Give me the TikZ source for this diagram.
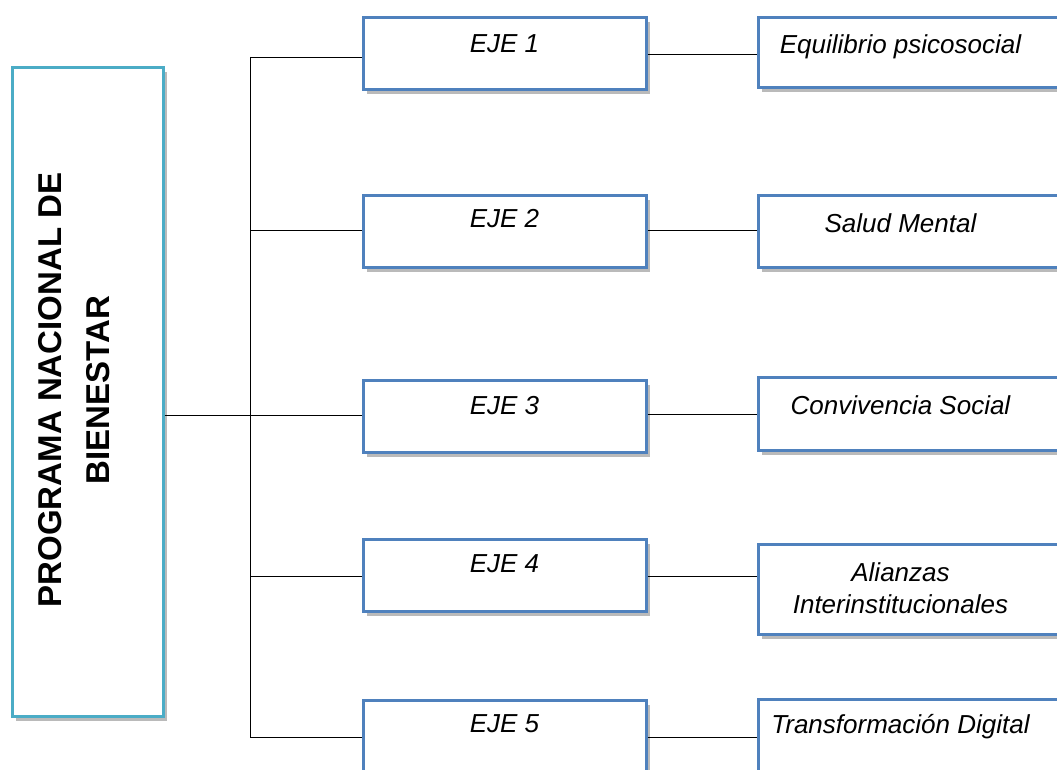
\documentclass[tikz,border=0pt]{standalone}
\usepackage{fontspec}
\setmainfont{Liberation Sans}
\usetikzlibrary{shadows, positioning}
\definecolor{ejeblue}{HTML}{4F81BD}
\definecolor{mainteal}{HTML}{4BACC6}
\tikzstyle{boxshadow} = [drop shadow={shadow xshift=2pt, shadow yshift=-2pt, fill=black!45, opacity=0.6}]
\tikzstyle{mainbox} = [rectangle, minimum width=75.5pt, minimum height=324.5pt, draw=mainteal, line width=1.5pt, fill=white, boxshadow]
\tikzstyle{ejebox} = [rectangle, minimum width=141.5pt, minimum height=36pt, draw=ejeblue, line width=1.5pt, fill=white, boxshadow]
\tikzstyle{areabox} = [rectangle, minimum width=153.5pt, minimum height=36pt, draw=ejeblue, line width=1.5pt, fill=white, boxshadow]
\tikzstyle{lbl} = [inner sep=0pt, align=center, font=\fontsize{13}{16}\selectfont\itshape]
\tikzstyle{line} = [thin, black]

\begin{document}
\begin{tikzpicture}[x=0.5pt, y=-0.5pt]

    \path[use as bounding box, clip] (0,0) rectangle (1057,770);

    % programa
    \node (prog) [mainbox] at (87.5,392.5) {};
    \node (progtxt) [rotate=90, align=center, inner sep=0pt, font=\fontsize{16.5}{24}\selectfont\bfseries] at (74,390) {PROGRAMA NACIONAL DE\\BIENESTAR};

    % ejes
    \node (e1) [ejebox] at (504.5,54) {};
    \node (e2) [ejebox] at (504.5,232) {};
    \node (e3) [ejebox] at (504.5,417) {};
    \node (e4) [ejebox] at (504.5,576) {};
    \node (e5) [ejebox] at (504.5,737) {};

    \node (t1) [lbl, anchor=base] at ([yshift=-18pt]e1.north) {EJE 1};
    \node (t2) [lbl, anchor=base] at ([yshift=-16.5pt]e2.north) {EJE 2};
    \node (t3) [lbl, anchor=base] at ([yshift=-17.5pt]e3.north) {EJE 3};
    \node (t4) [lbl, anchor=base] at ([yshift=-17pt]e4.north) {EJE 4};
    \node (t5) [lbl, anchor=base] at ([yshift=-16.5pt]e5.north) {EJE 5};

    % areas
    \node (r1) [areabox, minimum height=35pt] at (911.5,53) {};
    \node (r2) [areabox] at (911.5,232) {};
    \node (r3) [areabox, minimum height=36.5pt] at (911.5,414.5) {};
    \node (r4) [areabox, minimum height=45pt] at (911.5,590) {};
    \node (r5) [areabox, minimum height=37pt] at (911.5,737) {};

    \node (a1) [lbl, anchor=base] at ([xshift=72pt, yshift=-18.5pt]r1.north west) {Equilibrio psicosocial};
    \node (a2) [lbl, anchor=base] at ([xshift=72pt, yshift=-19pt]r2.north west) {Salud Mental};
    \node (a3) [lbl, anchor=base] at ([xshift=72pt, yshift=-19pt]r3.north west) {Convivencia Social};
    \node (a4) [lbl] at ([xshift=72pt, yshift=-22.5pt]r4.north west) {Alianzas\\Interinstitucionales};
    \node (a5) [lbl, anchor=base] at ([xshift=72pt, yshift=-17.5pt]r5.north west) {Transformación Digital};

    % conectores
    \coordinate (trunk) at (250,415);
    \draw [line] (prog.east |- trunk) -- (e3.west |- trunk);
    \draw [line] ([yshift=-1.5pt]e1.west -| trunk) -- (e5.west -| trunk);
    \draw [line] ([yshift=-1.5pt]e1.west -| trunk) -- ([yshift=-1.5pt]e1.west);
    \draw [line] ([yshift=1pt]e2.west -| trunk) -- ([yshift=1pt]e2.west);
    \draw [line] (e4.west -| trunk) -- (e4.west);
    \draw [line] (e5.west -| trunk) -- (e5.west);

    \draw [line] (e1.east) -- (e1.east -| r1.west);
    \draw [line] ([yshift=1pt]e2.east) -- ([yshift=1pt]e2.east -| r2.west);
    \draw [line] ([yshift=1.5pt]e3.east) -- ([yshift=1.5pt]e3.east -| r3.west);
    \draw [line] (e4.east) -- (e4.east -| r4.west);
    \draw [line] (e5.east) -- (e5.east -| r5.west);

\end{tikzpicture}
\end{document}
